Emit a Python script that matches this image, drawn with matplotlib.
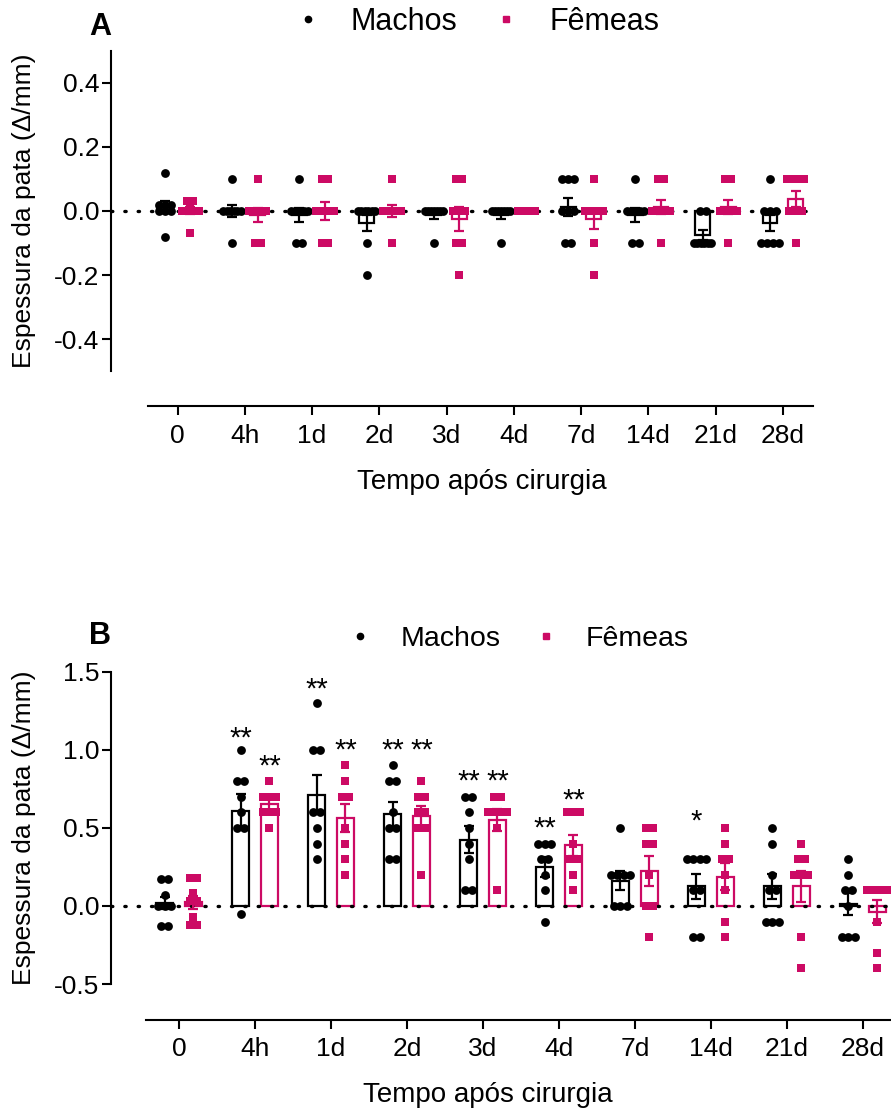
# Espessura da pata - machos vs fêmeas (painel A e B)
import numpy as np
import matplotlib
matplotlib.use("Agg")
import matplotlib.pyplot as plt
import matplotlib.transforms as mtransforms
from matplotlib.lines import Line2D

plt.rcParams['font.family'] = ['Liberation Sans', 'DejaVu Sans']
plt.rcParams['axes.unicode_minus'] = False

tempos = ["0", "4h", "1d", "2d", "3d", "4d", "7d", "14d", "21d", "28d"]

# painel A - valores individuais (Δ/mm)
a_machos = [
    [0.12, 0.02, 0.02, 0.02, 0.0, 0.0, 0.0, -0.08],
    [0.1, 0, 0, 0, 0, 0, 0, -0.1],
    [0.1, 0, 0, 0, 0, 0, -0.1, -0.1],
    [0, 0, 0, 0, 0, 0, -0.1, -0.2],
    [0, 0, 0, 0, 0, 0, 0, -0.1],
    [0, 0, 0, 0, 0, 0, 0, -0.1],
    [0.1, 0.1, 0.1, 0, 0, 0, -0.1, -0.1],
    [0.1, 0, 0, 0, 0, 0, -0.1, -0.1],
    [0, 0, -0.1, -0.1, -0.1, -0.1, -0.1, -0.1],
    [0.1, 0, 0, 0, -0.1, -0.1, -0.1, -0.1],
]
a_femeas = [
    [0.03, 0.03, 0.02, 0, 0, 0, 0, -0.07],
    [0.1, 0, 0, 0, 0, 0, -0.1, -0.1],
    [0.1, 0.1, 0, 0, 0, 0, -0.1, -0.1],
    [0.1, 0, 0, 0, 0, 0, 0, -0.1],
    [0.1, 0.1, 0, 0, 0, -0.1, -0.1, -0.2],
    [0, 0, 0, 0, 0, 0, 0, 0],
    [0.1, 0, 0, 0, 0, 0, -0.1, -0.2],
    [0.1, 0.1, 0, 0, 0, 0, 0, -0.1],
    [0.1, 0.1, 0, 0, 0, 0, 0, -0.1],
    [0.1, 0.1, 0.1, 0.1, 0, 0, 0, -0.1],
]

# painel B
b_machos = [
    [0.17, 0.17, 0.07, 0.0, 0.0, 0.0, -0.13, -0.13],
    [1.0, 0.8, 0.8, 0.7, 0.6, 0.5, 0.5, -0.05],
    [1.3, 1.0, 1.0, 0.6, 0.6, 0.5, 0.4, 0.3],
    [0.9, 0.8, 0.8, 0.6, 0.5, 0.5, 0.3, 0.3],
    [0.7, 0.7, 0.6, 0.5, 0.4, 0.3, 0.1, 0.1],
    [0.4, 0.4, 0.4, 0.3, 0.3, 0.2, 0.1, -0.1],
    [0.5, 0.2, 0.2, 0.2, 0.2, 0.0, 0.0, 0.0],
    [0.3, 0.3, 0.3, 0.3, 0.1, 0.1, -0.2, -0.2],
    [0.5, 0.4, 0.2, 0.1, 0.1, -0.1, -0.1, -0.1],
    [0.3, 0.2, 0.1, 0.1, 0.0, -0.2, -0.2, -0.2],
]
b_femeas = [
    [0.18, 0.18, 0.08, 0.03, 0.03, -0.07, -0.12, -0.12],
    [0.8, 0.7, 0.7, 0.7, 0.6, 0.6, 0.6, 0.5],
    [0.9, 0.8, 0.7, 0.7, 0.5, 0.4, 0.3, 0.2],
    [0.8, 0.7, 0.7, 0.6, 0.6, 0.5, 0.5, 0.2],
    [0.7, 0.7, 0.6, 0.6, 0.6, 0.6, 0.5, 0.1],
    [0.6, 0.6, 0.6, 0.4, 0.3, 0.3, 0.2, 0.1],
    [0.5, 0.5, 0.4, 0.4, 0.2, 0.0, 0.0, -0.2],
    [0.5, 0.4, 0.3, 0.3, 0.2, 0.1, -0.1, -0.2],
    [0.4, 0.3, 0.3, 0.2, 0.2, 0.2, -0.2, -0.4],
    [0.1, 0.1, 0.1, 0.1, 0.1, -0.1, -0.3, -0.4],
]

# significância (painel B) e altura dos asteriscos
sig_machos = ["", "**", "**", "**", "**", "**", "", "*", "", ""]
sig_femeas = ["", "**", "**", "**", "**", "**", "", "", "", ""]
sig_y_machos = [0, 1.12, 1.43, 1.04, 0.84, 0.54, 0, 0.59, 0, 0]
sig_y_femeas = [0, 0.94, 1.04, 1.04, 0.84, 0.72, 0, 0, 0, 0]

rosa = "#CC0A64"
DX = 0.19


def espalhar(vals, centro, passo=0.09, meia=0.13):
    # põe lado a lado os pontos com o mesmo valor
    vals = np.asarray(vals, dtype=float)
    xs = np.empty(len(vals))
    for v in np.unique(vals):
        idx = np.where(vals == v)[0]
        k = len(idx)
        p = min(passo, 2 * meia / (k - 1)) if k > 1 else 0
        xs[idx] = centro + (np.arange(k) - (k - 1) / 2) * p
    return xs


def painel(ax, machos, femeas):
    x = np.arange(len(tempos))
    for dados, dx, cor, marc, s in [(machos, -DX, "black", "o", 40), (femeas, DX, rosa, "s", 34)]:
        medias = np.array([np.mean(d) for d in dados])
        epm = np.array([np.std(d, ddof=1) / np.sqrt(len(d)) for d in dados])
        ax.bar(x + dx, medias, width=0.22, facecolor="white", edgecolor=cor,
               linewidth=1.6, zorder=1)
        for i, d in enumerate(dados):
            ax.scatter(espalhar(d, x[i] + dx), d, marker=marc, s=s, color=cor,
                       linewidths=0, zorder=3)
        ax.errorbar(x + dx, medias, yerr=epm, fmt="none", ecolor=cor,
                    elinewidth=1.6, capsize=3.8, capthick=1.6, zorder=4)
    ax.axhline(0, color="black", ls=(0, (0.4, 3.6)), lw=2.4, dash_capstyle="round", zorder=2.5)

    ax.set_xticks(x)
    ax.set_xticklabels(tempos)
    for sp in ["top", "right"]:
        ax.spines[sp].set_visible(False)
    for sp in ["left", "bottom"]:
        ax.spines[sp].set_linewidth(1.5)
    ax.tick_params(axis="both", labelsize=19, width=1.5, length=6.5)
    ax.tick_params(axis="x", pad=6)
    ax.tick_params(axis="y", pad=2)
    ax.set_xlabel("Tempo após cirurgia", fontsize=20)
    ax.set_ylabel("Espessura da pata (Δ/mm)", fontsize=19)
    ax.xaxis.label.set_va("center")


def legenda(ax, xc, yc, tam):
    hs = [Line2D([], [], marker="o", color="black", ls="", markersize=4.5),
          Line2D([], [], marker="s", color=rosa, ls="", markersize=5)]
    ax.legend(hs, ["Machos", "Fêmeas"], loc="center", bbox_to_anchor=(xc, yc),
              ncol=2, frameon=False, fontsize=tam, handlelength=1.0,
              handletextpad=0.9, columnspacing=1.1)


fig = plt.figure(figsize=(8.91, 11.1), dpi=100)

# ---- A ----
axA = fig.add_axes([111 / 891, 1 - 406.5 / 1110, (813 - 111) / 891, (406.5 - 50.7) / 1110])
painel(axA, a_machos, a_femeas)
axA.set_xlim(-0.99, 9.45)
axA.set_ylim(-0.61, 0.5)
axA.set_yticks([-0.4, -0.2, 0.0, 0.2, 0.4])
axA.set_yticklabels(["%.1f" % v for v in [-0.4, -0.2, 0.0, 0.2, 0.4]])
axA.spines["left"].set_bounds(-0.5, 0.5)
axA.spines["bottom"].set_bounds(-0.44, 9.45)
axA.yaxis.set_label_coords(-0.107, 0.0, transform=mtransforms.blended_transform_factory(axA.transAxes, axA.transData))
axA.xaxis.set_label_coords(0.528, -0.213)
legenda(axA, 0.52, 1.081, 22)
fig.text(100 / 891, 1 - 27 / 1110, "A", fontsize=22, fontweight="bold", ha="center", va="center")

# ---- B ----
axB = fig.add_axes([111 / 891, 1 - 1020 / 1110, (891 - 111) / 891, (1020 - 671.7) / 1110])
painel(axB, b_machos, b_femeas)
axB.set_xlim(-0.895, 9.37)
axB.set_ylim(-0.73, 1.5)
axB.set_yticks([-0.5, 0.0, 0.5, 1.0, 1.5])
axB.set_yticklabels(["%.1f" % v for v in [-0.5, 0.0, 0.5, 1.0, 1.5]])
axB.spines["left"].set_bounds(-0.5, 1.5)
axB.spines["bottom"].set_bounds(-0.44, 9.37)
axB.yaxis.set_label_coords(-0.096, 0.5, transform=mtransforms.blended_transform_factory(axB.transAxes, axB.transData))
axB.xaxis.set_label_coords(0.483, -0.215)
legenda(axB, 0.521, 1.095, 20.5)
fig.text(100 / 891, 1 - 636 / 1110, "B", fontsize=22, fontweight="bold", ha="center", va="center")

xb = np.arange(len(tempos))
for i in range(len(tempos)):
    if sig_machos[i]:
        axB.annotate(sig_machos[i], (xb[i] - DX, sig_y_machos[i]), xytext=(0, -11),
                     textcoords="offset points", ha="center", va="baseline", fontsize=21)
    if sig_femeas[i]:
        axB.annotate(sig_femeas[i], (xb[i] + DX, sig_y_femeas[i]), xytext=(0, -11),
                     textcoords="offset points", ha="center", va="baseline", fontsize=21)

fig.savefig("out.png", dpi=100)
